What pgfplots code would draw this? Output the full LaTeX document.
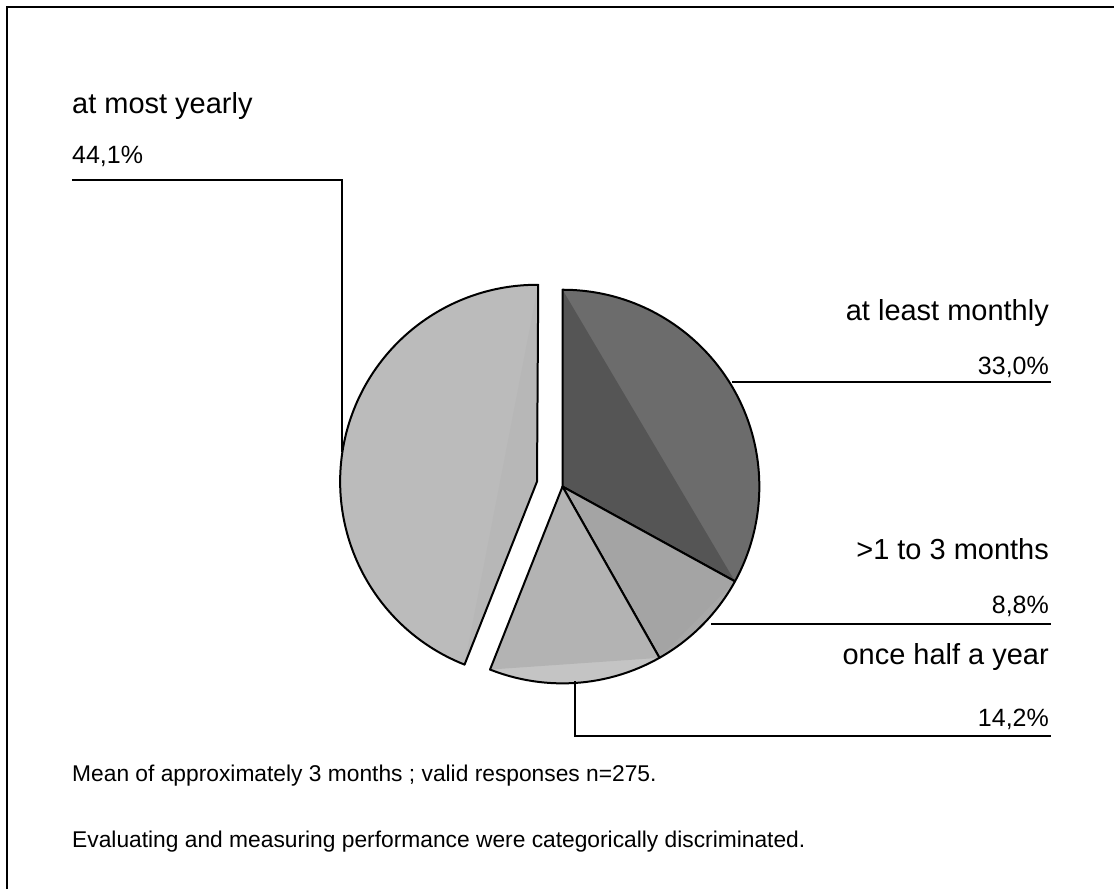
\documentclass[border=0pt]{standalone}
\usepackage{fontspec}
\setmainfont{Liberation Sans}
\usepackage{pgfplots}
\usepackage{pgfplotstable}
\pgfplotsset{compat=1.18}
\definecolor{segA}{HTML}{6C6C6C}
\definecolor{triA}{HTML}{555555}
\definecolor{segB}{HTML}{A8A8A8}
\definecolor{triB}{HTML}{A4A4A4}
\definecolor{segC}{HTML}{C4C4C4}
\definecolor{triC}{HTML}{B3B3B3}
\definecolor{segD}{HTML}{BBBBBB}
\definecolor{triD}{HTML}{B7B7B7}
\pgfplotstableread{
label value
monthly 33.0
threemonths 8.8
halfyear 14.2
yearly 44.1
}\pietable
\begin{document}
\begin{tikzpicture}
\pgfplotstablegetelem{0}{value}\of\pietable \let\vA\pgfplotsretval
\pgfplotstablegetelem{1}{value}\of\pietable \let\vB\pgfplotsretval
\pgfplotstablegetelem{2}{value}\of\pietable \let\vC\pgfplotsretval
\pgfplotstablegetelem{3}{value}\of\pietable \let\vD\pgfplotsretval
\pgfmathsetmacro\aA{90}
\pgfmathsetmacro\aB{\aA-3.6*\vA}
\pgfmathsetmacro\aC{\aB-3.6*\vB}
\pgfmathsetmacro\aD{\aC-3.6*\vC}
\pgfmathsetmacro\aE{\aD-3.6*\vD}
\pgfmathsetmacro\aM{(\aD+\aE)/2}
\def\cx{563}\def\cy{403}\def\R{197}\def\Rc{147.75pt}
\pgfmathsetmacro\ex{\cx+26*cos(\aM)}
\pgfmathsetmacro\ey{\cy+26*sin(\aM)}
\begin{axis}[x=0.75pt, y=0.75pt, xmin=0, xmax=1115, ymin=0, ymax=890,
  hide axis, clip=false]
\path (axis cs:0,0) -- (axis cs:1115,890);
% frame
\draw[line width=1.5pt] (axis cs:7,0) -- (axis cs:7,883) -- (axis cs:1115,883);
% slice A : at least monthly
\fill[segA] (axis cs:\cx,\cy) -- (axis cs:{\cx+\R*cos(\aA)},{\cy+\R*sin(\aA)}) arc[start angle=\aA, end angle=\aB, radius=\Rc] -- cycle;
\fill[triA] (axis cs:\cx,\cy) -- (axis cs:{\cx+\R*cos(\aA)},{\cy+\R*sin(\aA)}) -- (axis cs:{\cx+\R*cos(\aB)},{\cy+\R*sin(\aB)}) -- cycle;
\draw[line width=1.5pt, line join=round] (axis cs:\cx,\cy) -- (axis cs:{\cx+\R*cos(\aA)},{\cy+\R*sin(\aA)}) arc[start angle=\aA, end angle=\aB, radius=\Rc] -- cycle;
% slice B : >1 to 3 months
\fill[segB] (axis cs:\cx,\cy) -- (axis cs:{\cx+\R*cos(\aB)},{\cy+\R*sin(\aB)}) arc[start angle=\aB, end angle=\aC, radius=\Rc] -- cycle;
\fill[triB] (axis cs:\cx,\cy) -- (axis cs:{\cx+\R*cos(\aB)},{\cy+\R*sin(\aB)}) -- (axis cs:{\cx+\R*cos(\aC)},{\cy+\R*sin(\aC)}) -- cycle;
\draw[line width=1.5pt, line join=round] (axis cs:\cx,\cy) -- (axis cs:{\cx+\R*cos(\aB)},{\cy+\R*sin(\aB)}) arc[start angle=\aB, end angle=\aC, radius=\Rc] -- cycle;
% slice C : once half a year
\fill[segC] (axis cs:\cx,\cy) -- (axis cs:{\cx+\R*cos(\aC)},{\cy+\R*sin(\aC)}) arc[start angle=\aC, end angle=\aD, radius=\Rc] -- cycle;
\fill[triC] (axis cs:\cx,\cy) -- (axis cs:{\cx+\R*cos(\aC)},{\cy+\R*sin(\aC)}) -- (axis cs:{\cx+\R*cos(\aD)},{\cy+\R*sin(\aD)}) -- cycle;
\draw[line width=1.5pt, line join=round] (axis cs:\cx,\cy) -- (axis cs:{\cx+\R*cos(\aC)},{\cy+\R*sin(\aC)}) arc[start angle=\aC, end angle=\aD, radius=\Rc] -- cycle;
% slice D : at most yearly (exploded)
\fill[segD] (axis cs:\ex,\ey) -- (axis cs:{\ex+\R*cos(\aD)},{\ey+\R*sin(\aD)}) arc[start angle=\aD, end angle=\aE, radius=\Rc] -- cycle;
\fill[triD] (axis cs:\ex,\ey) -- (axis cs:{\ex+\R*cos(\aD)},{\ey+\R*sin(\aD)}) -- (axis cs:{\ex+\R*cos(\aE)},{\ey+\R*sin(\aE)}) -- cycle;
\draw[line width=1.5pt, line join=round] (axis cs:\ex,\ey) -- (axis cs:{\ex+\R*cos(\aD)},{\ey+\R*sin(\aD)}) arc[start angle=\aD, end angle=\aE, radius=\Rc] -- cycle;
% leader lines
\draw[line width=1.5pt] (axis cs:72,710) -- (axis cs:342,710) -- (axis cs:342,438);
\draw[line width=1.5pt] (axis cs:733,508) -- (axis cs:1052,508);
\draw[line width=1.5pt] (axis cs:712,265) -- (axis cs:1052,265);
\draw[line width=1.5pt] (axis cs:576,208) -- (axis cs:576,153) -- (axis cs:1052,153);
% labels
\node[anchor=base west, inner sep=0pt, font=\fontsize{21.75}{26}\selectfont] at (axis cs:72,776) {at most yearly};
\node[anchor=base west, inner sep=0pt, font=\fontsize{18.75}{22}\selectfont] at (axis cs:72,726) {44,1\%};
\node[anchor=base east, inner sep=0pt, font=\fontsize{21.75}{26}\selectfont] at (axis cs:1050,569) {at least monthly};
\node[anchor=base east, inner sep=0pt, font=\fontsize{18.75}{22}\selectfont] at (axis cs:1050,515) {33,0\%};
\node[anchor=base east, inner sep=0pt, font=\fontsize{21.75}{26}\selectfont] at (axis cs:1050,330) {>1 to 3 months};
\node[anchor=base east, inner sep=0pt, font=\fontsize{18.75}{22}\selectfont] at (axis cs:1050,276) {8,8\%};
\node[anchor=base east, inner sep=0pt, font=\fontsize{21.75}{26}\selectfont] at (axis cs:1050,225) {once half a year};
\node[anchor=base east, inner sep=0pt, font=\fontsize{18.75}{22}\selectfont] at (axis cs:1050,163) {14,2\%};
\node[anchor=base west, inner sep=0pt, font=\fontsize{17.1}{20}\selectfont] at (axis cs:72,108) {Mean of approximately 3 months ; valid responses n=275.};
\node[anchor=base west, inner sep=0pt, font=\fontsize{17.1}{20}\selectfont] at (axis cs:72,42) {Evaluating and measuring performance were categorically discriminated.};
\end{axis}
\end{tikzpicture}
\end{document}
